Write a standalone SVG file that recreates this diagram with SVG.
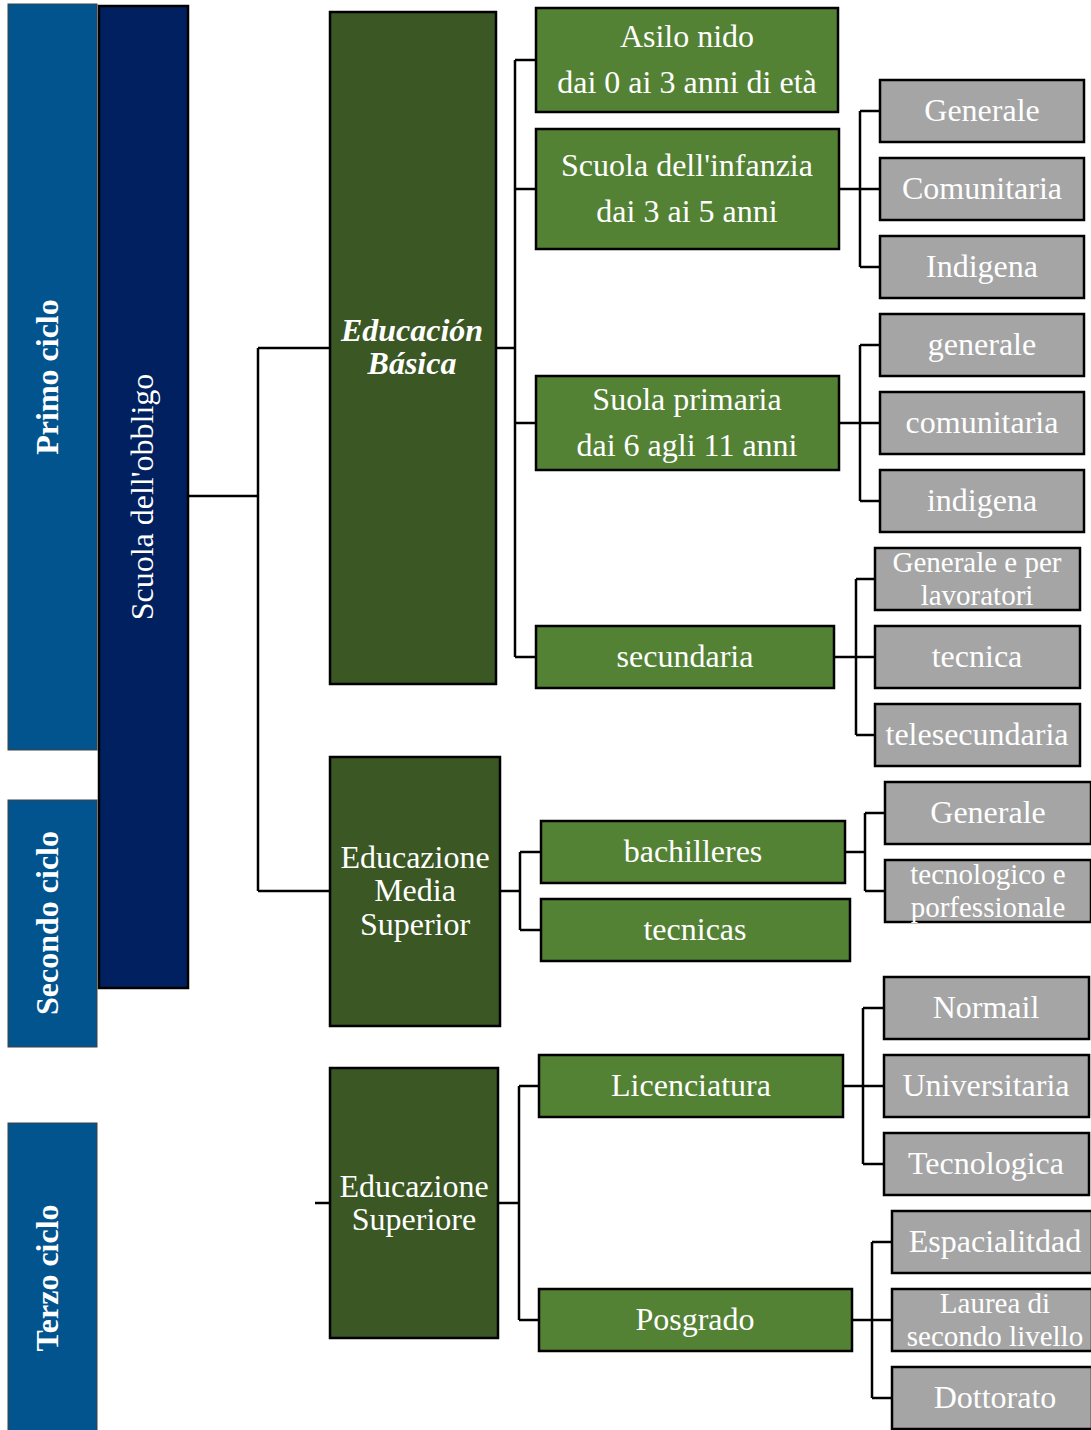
<svg xmlns="http://www.w3.org/2000/svg" width="1091" height="1430" viewBox="0 0 1091 1430">
<style>
text{font-family:"Liberation Serif","Times New Roman",serif;fill:#fff;text-anchor:middle;dominant-baseline:central;font-size:32px}
.cyc{fill:#02548F;stroke:#404040;stroke-width:1}
.nav{fill:#002060;stroke:#000;stroke-width:2.5}
.dg{fill:#3B5723;stroke:#000;stroke-width:2.5}
.g{fill:#548235;stroke:#000;stroke-width:2.5}
.gr{fill:#A5A5A5;stroke:#000;stroke-width:2.5}
.b{font-weight:bold}
.sm{font-size:29px}
.conn{fill:none;stroke:#000;stroke-width:2.5}
</style>
<rect width="1091" height="1430" fill="#fff"/>
<g id="connectors" class="conn">
<path d="M188,496H258M258,348V891M258,348H330M258,891H330"/>
<path d="M496,348H515M515,60V657M515,60H536M515,189H536M515,423H536M515,657H536"/>
<path d="M839,189H860M860,111V267M860,111H880M860,189H880M860,267H880"/>
<path d="M839,423H860M860,345V501M860,345H880M860,423H880M860,501H880"/>
<path d="M834,657H856M856,579V735M856,579H875M856,657H875M856,735H875"/>
<path d="M500,891H520M520,852V930M520,852H541M520,930H541"/>
<path d="M845,852H865M865,813V891M865,813H885M865,891H885"/>
<path d="M315,1203H330M498,1203H519M519,1086V1320M519,1086H539M519,1320H539"/>
<path d="M843,1086H863M863,1008V1164M863,1008H884M863,1086H884M863,1164H884"/>
<path d="M852,1320H872M872,1242V1398M872,1242H892M872,1320H892M872,1398H892"/>
</g>
<g id="primo"><rect class="cyc" x="8" y="4" width="89" height="746"/><text class="b" transform="translate(47,377) rotate(-90)">Primo ciclo</text></g>
<g id="secondo"><rect class="cyc" x="8" y="800" width="89" height="247"/><text class="b" transform="translate(47,923) rotate(-90)">Secondo ciclo</text></g>
<g id="terzo"><rect class="cyc" x="8" y="1123" width="89" height="310"/><text class="b" transform="translate(47,1278) rotate(-90)">Terzo ciclo</text></g>
<g id="obbligo"><rect class="nav" x="99" y="6" width="89" height="982"/><text transform="translate(142,497) rotate(-90)">Scuola dell'obbligo</text></g>
<g id="basica"><rect class="dg" x="330" y="12" width="166" height="672"/><text class="b" font-style="italic" x="412" y="330">Educación</text><text class="b" font-style="italic" x="412" y="363">Básica</text></g>
<g id="media"><rect class="dg" x="330" y="757" width="170" height="269"/><text x="415" y="857">Educazione</text><text x="415" y="890">Media</text><text x="415" y="924">Superior</text></g>
<g id="superiore"><rect class="dg" x="330" y="1068" width="168" height="270"/><text x="414" y="1186">Educazione</text><text x="414" y="1219">Superiore</text></g>
<g id="asilo"><rect class="g" x="536" y="8" width="302" height="104"/><text x="687" y="36">Asilo nido</text><text x="687" y="82">dai 0 ai 3 anni di età</text></g>
<g id="infanzia"><rect class="g" x="536" y="129" width="303" height="120"/><text x="687" y="165">Scuola dell'infanzia</text><text x="687" y="211">dai 3 ai 5 anni</text></g>
<g id="primaria"><rect class="g" x="536" y="376" width="303" height="94"/><text x="687" y="399">Suola primaria</text><text x="687" y="445">dai 6 agli 11 anni</text></g>
<g id="secundaria"><rect class="g" x="536" y="626" width="298" height="62"/><text x="685" y="656">secundaria</text></g>
<g id="inf-generale"><rect class="gr" x="880" y="80" width="204" height="62"/><text x="982" y="110">Generale</text></g>
<g id="inf-comunitaria"><rect class="gr" x="880" y="158" width="204" height="62"/><text x="982" y="188">Comunitaria</text></g>
<g id="inf-indigena"><rect class="gr" x="880" y="236" width="204" height="62"/><text x="982" y="266">Indigena</text></g>
<g id="pri-generale"><rect class="gr" x="880" y="314" width="204" height="62"/><text x="982" y="344">generale</text></g>
<g id="pri-comunitaria"><rect class="gr" x="880" y="392" width="204" height="62"/><text x="982" y="422">comunitaria</text></g>
<g id="pri-indigena"><rect class="gr" x="880" y="470" width="204" height="62"/><text x="982" y="500">indigena</text></g>
<g id="sec-generale"><rect class="gr" x="875" y="548" width="205" height="62"/><text class="sm" x="977" y="562">Generale e per</text><text class="sm" x="977" y="595">lavoratori</text></g>
<g id="sec-tecnica"><rect class="gr" x="875" y="626" width="205" height="62"/><text x="977" y="656">tecnica</text></g>
<g id="sec-tele"><rect class="gr" x="875" y="704" width="205" height="62"/><text x="977" y="734">telesecundaria</text></g>
<g id="bachilleres"><rect class="g" x="541" y="821" width="304" height="62"/><text x="693" y="851">bachilleres</text></g>
<g id="tecnicas"><rect class="g" x="541" y="899" width="309" height="62"/><text x="695" y="929">tecnicas</text></g>
<g id="bac-generale"><rect class="gr" x="885" y="782" width="206" height="62"/><text x="988" y="812">Generale</text></g>
<g id="bac-tecno"><rect class="gr" x="885" y="860" width="206" height="62"/><text class="sm" x="988" y="874">tecnologico e</text><text class="sm" x="988" y="907">porfessionale</text></g>
<g id="licenciatura"><rect class="g" x="539" y="1055" width="304" height="62"/><text x="691" y="1085">Licenciatura</text></g>
<g id="posgrado"><rect class="g" x="539" y="1289" width="313" height="62"/><text x="695" y="1319">Posgrado</text></g>
<g id="normail"><rect class="gr" x="884" y="977" width="205" height="62"/><text x="986" y="1007">Normail</text></g>
<g id="universitaria"><rect class="gr" x="884" y="1055" width="205" height="62"/><text x="986" y="1085">Universitaria</text></g>
<g id="tecnologica"><rect class="gr" x="884" y="1133" width="205" height="62"/><text x="986" y="1163">Tecnologica</text></g>
<g id="espacialitdad"><rect class="gr" x="892" y="1211" width="200" height="62"/><text x="995" y="1241">Espacialitdad</text></g>
<g id="laurea"><rect class="gr" x="892" y="1289" width="200" height="62"/><text class="sm" x="995" y="1303">Laurea di</text><text class="sm" x="995" y="1336">secondo livello</text></g>
<g id="dottorato"><rect class="gr" x="892" y="1367" width="200" height="62"/><text x="995" y="1397">Dottorato</text></g>
</svg>
